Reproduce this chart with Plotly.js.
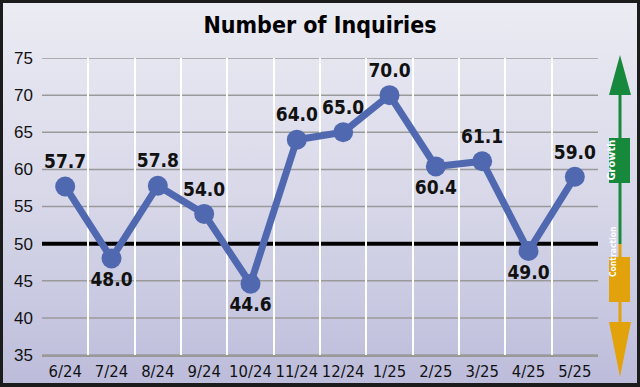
<!DOCTYPE html>
<html>
<head>
<meta charset="utf-8">
<script src="https://cdn.plot.ly/plotly-3.0.1.min.js"></script>
<style>
  html, body { margin: 0; padding: 0; }
  #wrap { position: relative; width: 640px; height: 387px; overflow: hidden;
          background: linear-gradient(#ececf4 0%, #d6d6e8 55%, #bcbcdb 100%); }
  #chart { position: absolute; left: 0; top: 0; width: 640px; height: 387px; }
  #frame { position: absolute; left: 0; top: 0; width: 640px; height: 387px; box-sizing: border-box;
           border: 3px solid #1c1c1c; border-bottom-width: 4px; pointer-events: none; }
</style>
</head>
<body>
<div id="wrap"><div id="chart"></div><div id="frame"></div></div>
<script>
// ---- data ----
const months = ["6/24","7/24","8/24","9/24","10/24","11/24","12/24","1/25","2/25","3/25","4/25","5/25"];
const inquiries = [57.7, 48.0, 57.8, 54.0, 44.6, 64.0, 65.0, 70.0, 60.4, 61.1, 49.0, 59.0];
const labelSide = ["top","bottom","top","top","bottom","top","top","top","bottom","top","bottom","top"];
const yTicks = [35, 40, 45, 50, 55, 60, 65, 70, 75];
const threshold = 50;

// ---- layout geometry (pixels) ----
const W = 640, H = 387;
const M = {l: 42, r: 42, t: 58, b: 32};
const pw = W - M.l - M.r, ph = H - M.t - M.b;
const px = x => (x - M.l) / pw;          // pixel x -> paper x
const py = y => (H - M.b - y) / ph;      // pixel y -> paper y

const COND = "DejaVu Sans Condensed, DejaVu Sans, sans-serif";
const green = "#16893c", orange = "#e2a20c";
const arrowX = 620;

// horizontal gridlines (all ticks except the threshold line, which is drawn black)
const gridShapes = yTicks.filter(v => v !== threshold).map(v => ({
  type: "line", xref: "paper", yref: "y", x0: 0, x1: 1, y0: v, y1: v,
  line: {color: "#9a9a9a", width: 1.5}, layer: "below"}));

const shapes = gridShapes.concat([
  {type: "line", xref: "paper", yref: "y", x0: 0, x1: 1, y0: threshold, y1: threshold,
   line: {color: "#000", width: 4}, layer: "below"},
  // growth arrow
  {type: "line", xref: "paper", yref: "paper", x0: px(arrowX), x1: px(arrowX), y0: py(93), y1: py(244),
   line: {color: green, width: 3}},
  {type: "path", xref: "paper", yref: "paper",
   path: `M ${px(arrowX)} ${py(55)} L ${px(609)} ${py(95)} L ${px(631)} ${py(95)} Z`,
   fillcolor: green, line: {width: 0}},
  {type: "rect", xref: "paper", yref: "paper", x0: px(609), x1: px(630), y0: py(183), y1: py(138),
   fillcolor: green, line: {width: 0}},
  // contraction arrow
  {type: "line", xref: "paper", yref: "paper", x0: px(arrowX), x1: px(arrowX), y0: py(244), y1: py(324),
   line: {color: orange, width: 3}},
  {type: "rect", xref: "paper", yref: "paper", x0: px(609), x1: px(630), y0: py(302), y1: py(257),
   fillcolor: orange, line: {width: 0}},
  {type: "path", xref: "paper", yref: "paper",
   path: `M ${px(609)} ${py(322)} L ${px(631)} ${py(322)} L ${px(arrowX)} ${py(377)} Z`,
   fillcolor: orange, line: {width: 0}}
]);

const annotations = [
  {xref: "paper", yref: "paper", x: px(619.5), y: py(160.5), text: "<b>Growth</b>", showarrow: false,
   textangle: -90, font: {family: COND, stretch: "condensed", size: 11, color: "#fff"}},
  {xref: "paper", yref: "paper", x: px(619.5), y: py(279.5), text: "<b>Contraction</b>", showarrow: false,
   textangle: -90, font: {family: COND, stretch: "condensed", size: 8.5, color: "#fff"}}
];

const trace = {
  type: "scatter", mode: "lines+markers+text",
  x: months, y: inquiries,
  text: inquiries.map(v => v.toFixed(1)),
  textposition: labelSide.map(s => s + " center"),
  textfont: {family: COND, stretch: "condensed", size: 19, color: "#111", weight: "bold"},
  line: {color: "#5068b0", width: 7},
  marker: {color: "#5068b0", size: 20},
  cliponaxis: false,
  hoverinfo: "skip"
};

const layout = {
  width: W, height: H,
  margin: M,
  paper_bgcolor: "rgba(0,0,0,0)",
  plot_bgcolor: "rgba(0,0,0,0)",
  showlegend: false,
  title: {text: "<b>Number of Inquiries</b>", x: 0.5, xanchor: "center", y: 0.935, yanchor: "middle",
          font: {family: COND, stretch: "condensed", size: 23, color: "#000"}},
  xaxis: {type: "category", range: [-0.5, months.length - 0.5], tickson: "boundaries",
          showgrid: true, gridcolor: "#ffffff", gridwidth: 2, ticks: "", tickangle: 0,
          showline: true, linecolor: "#999", linewidth: 2, zeroline: false,
          tickfont: {family: COND, stretch: "condensed", size: 16.5, color: "#111"},
          fixedrange: true},
  yaxis: {range: [35, 75], tickvals: yTicks, ticktext: yTicks.map(String),
          showgrid: false, zeroline: false, ticks: "",
          showline: false, ticklabelstandoff: 8,
          tickfont: {family: "Liberation Sans, Arial, sans-serif", size: 17, color: "#111"},
          fixedrange: true},
  shapes: shapes,
  annotations: annotations
};

Plotly.newPlot("chart", [trace], layout, {displayModeBar: false, staticPlot: true});
</script>
</body>
</html>
